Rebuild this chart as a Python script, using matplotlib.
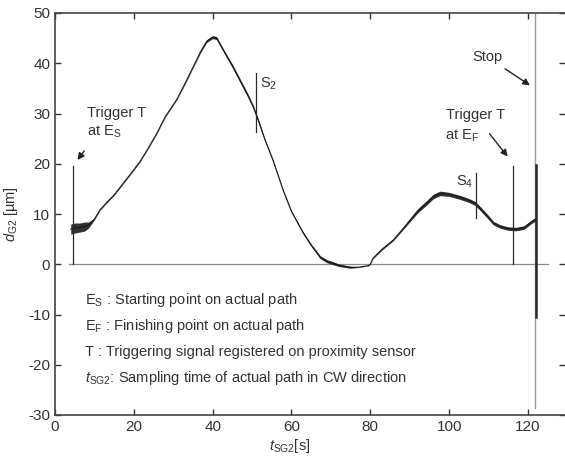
import matplotlib
matplotlib.use("Agg")
import matplotlib.pyplot as plt
import numpy as np

plt.rcParams['font.family'] = ['Liberation Sans', 'DejaVu Sans']
plt.rcParams['mathtext.fontset'] = 'custom'
plt.rcParams['mathtext.rm'] = 'Liberation Sans'
plt.rcParams['mathtext.it'] = 'Liberation Sans:italic'
plt.rcParams['mathtext.bf'] = 'Liberation Sans:bold'
plt.rcParams['axes.unicode_minus'] = False

# ---- data ----
t_sg2 = [4.0, 5.0, 6.3, 7.5, 8.5, 10.0, 11.4, 13.0, 15.0, 18.2, 20.0, 21.6, 23.5, 25.8, 28.0,
         30.9, 33.0, 35.0, 37.0, 38.5, 40.0, 41.0, 43.0, 45.2, 47.0, 49.0, 50.3, 51.5,
         53.3, 55.4, 57.9, 60.0, 63.0, 65.0, 67.3, 69.0, 70.6, 72.0, 74.9, 77.0, 79.4,
         80.0, 80.7, 83.0, 85.8, 88.0, 90.1, 92.0, 94.4, 96.0, 97.7, 100.0, 102.8, 105.0,
         106.6, 108.0, 110.0, 111.2, 113.0, 115.0, 117.0, 119.0, 121.0, 122.0]
d_g2 = [7.0, 7.2, 7.3, 7.5, 7.8, 9.0, 10.8, 12.2, 13.8, 17.0, 18.8, 20.5, 22.9, 26.0, 29.4,
        32.8, 36.0, 39.2, 42.4, 44.4, 45.2, 45.0, 42.2, 39.2, 36.5, 33.5, 31.3, 28.8,
        24.7, 20.5, 14.7, 10.5, 6.2, 3.8, 1.4, 0.6, 0.2, -0.2, -0.6, -0.6, -0.3,
        0.0, 1.2, 3.0, 4.8, 6.8, 8.8, 10.6, 12.3, 13.5, 14.1, 13.9, 13.3, 12.7,
        12.1, 11.0, 9.3, 8.2, 7.5, 7.1, 7.0, 7.3, 8.5, 9.0]
# half-width of the noise band seen around the trace (µm)
noise_band = [1.0, 1.0, 0.9, 0.9, 0.6, 0.15, 0.1, 0.1, 0.1, 0.1, 0.1, 0.1, 0.1, 0.1, 0.1,
              0.1, 0.15, 0.15, 0.2, 0.25, 0.3, 0.3, 0.3, 0.35, 0.35, 0.35, 0.35, 0.3,
              0.2, 0.15, 0.15, 0.15, 0.2, 0.25, 0.3, 0.3, 0.3, 0.25, 0.2, 0.05, 0.05,
              0.05, 0.1, 0.15, 0.15, 0.2, 0.3, 0.4, 0.45, 0.45, 0.45, 0.4, 0.4, 0.4,
              0.4, 0.4, 0.4, 0.35, 0.35, 0.35, 0.35, 0.35, 0.35, 0.35]

# vertical spikes (x, y_low, y_high)
spike_x = [4.5, 50.9, 106.9, 116.2, 122.0]
spike_lo = [0.0, 26.3, 9.2, 0.0, -10.5]
spike_hi = [19.5, 38.0, 18.1, 19.5, 19.7]
stop_x = 121.8
stop_lo, stop_hi = -28.7, 50.0
zero_x = [3.5, 125.0]

x_ticks = [0, 20, 40, 60, 80, 100, 120]
y_ticks = [-30, -20, -10, 0, 10, 20, 30, 40, 50]

legend_lines = [r'E$_\mathrm{S}$ : Starting point on actual path',
                r'E$_\mathrm{F}$ : Finishing point on actual path',
                r'T : Triggering signal registered on proximity sensor',
                r'$t_\mathrm{SG2}$: Sampling time of actual path in CW direction']

# ---- figure ----
fig = plt.figure(figsize=(5.65, 4.59), dpi=100)
ax = fig.add_axes([55/565, 44/459, 510/565, 402/459])

ax.plot(zero_x, [0, 0], color='#8a8a8a', lw=0.9, zorder=1)
ax.plot([stop_x, stop_x], [stop_lo, stop_hi], color='#9a9a9a', lw=1.0, zorder=1)

tx = np.array(t_sg2); dy = np.array(d_g2); nb = np.array(noise_band)
ax.fill_between(tx, dy - nb, dy + nb, color='#1a1a1a', lw=0, alpha=0.9, zorder=2)
ax.plot(tx, dy, color='#1a1a1a', lw=0.8, zorder=3)

for sx, lo, hi in zip(spike_x, spike_lo, spike_hi):
    lw = 1.8 if sx == 122.0 else 0.9
    ax.plot([sx, sx], [lo, hi], color='#2a2a2a', lw=lw, zorder=3)

ax.set_xlim(0, 129.4)
ax.set_ylim(-30, 50)
ax.set_xticks(x_ticks)
ax.set_yticks(y_ticks)
ax.tick_params(direction='in', top=True, right=True, labelsize=11, length=4,
               colors='#333333', labelcolor='#333333', width=1.0)
for s in ax.spines.values():
    s.set_color('#444444')
    s.set_linewidth(1.2)
ax.spines['right'].set_visible(False)

fs = 10.5
ax.set_xlabel(r'$t_\mathrm{SG2}$[s]', fontsize=fs, color='#333333', labelpad=2)
ax.xaxis.set_label_coords(0.46, -0.055)
ax.set_ylabel(r'$d_\mathrm{G2}$ [µm]', fontsize=fs, color='#333333', labelpad=6)

for i, s in enumerate(legend_lines):
    ax.text(7.6, -7.2 - 5.15 * i, s, fontsize=fs, color='#333333', va='center', ha='left')

ax.text(8.1, 30.0, 'Trigger T', fontsize=fs, color='#333333', va='center', ha='left')
ax.text(8.1, 26.3, r'at E$_\mathrm{S}$', fontsize=fs, color='#333333', va='center', ha='left')
ax.annotate('', xy=(5.3, 20.3), xytext=(7.8, 23.0),
            arrowprops=dict(arrowstyle='-|>', color='#222222', lw=1.0, mutation_scale=10))

ax.text(52.0, 36.0, r'S$_2$', fontsize=fs, color='#333333', va='center', ha='left')
ax.text(106.0, 16.5, r'S$_4$', fontsize=fs, color='#333333', va='center', ha='right')

ax.text(99.2, 29.7, 'Trigger T', fontsize=fs, color='#333333', va='center', ha='left')
ax.text(99.0, 25.6, r'at E$_\mathrm{F}$', fontsize=fs, color='#333333', va='center', ha='left')
ax.annotate('', xy=(115.3, 21.0), xytext=(109.8, 26.4),
            arrowprops=dict(arrowstyle='-|>', color='#222222', lw=1.0, mutation_scale=10))

ax.text(105.8, 41.2, 'Stop', fontsize=fs, color='#333333', va='center', ha='left')
ax.annotate('', xy=(121.1, 35.3), xytext=(113.6, 39.2),
            arrowprops=dict(arrowstyle='-|>', color='#222222', lw=1.0, mutation_scale=10))

fig.savefig('out.png', dpi=100)
